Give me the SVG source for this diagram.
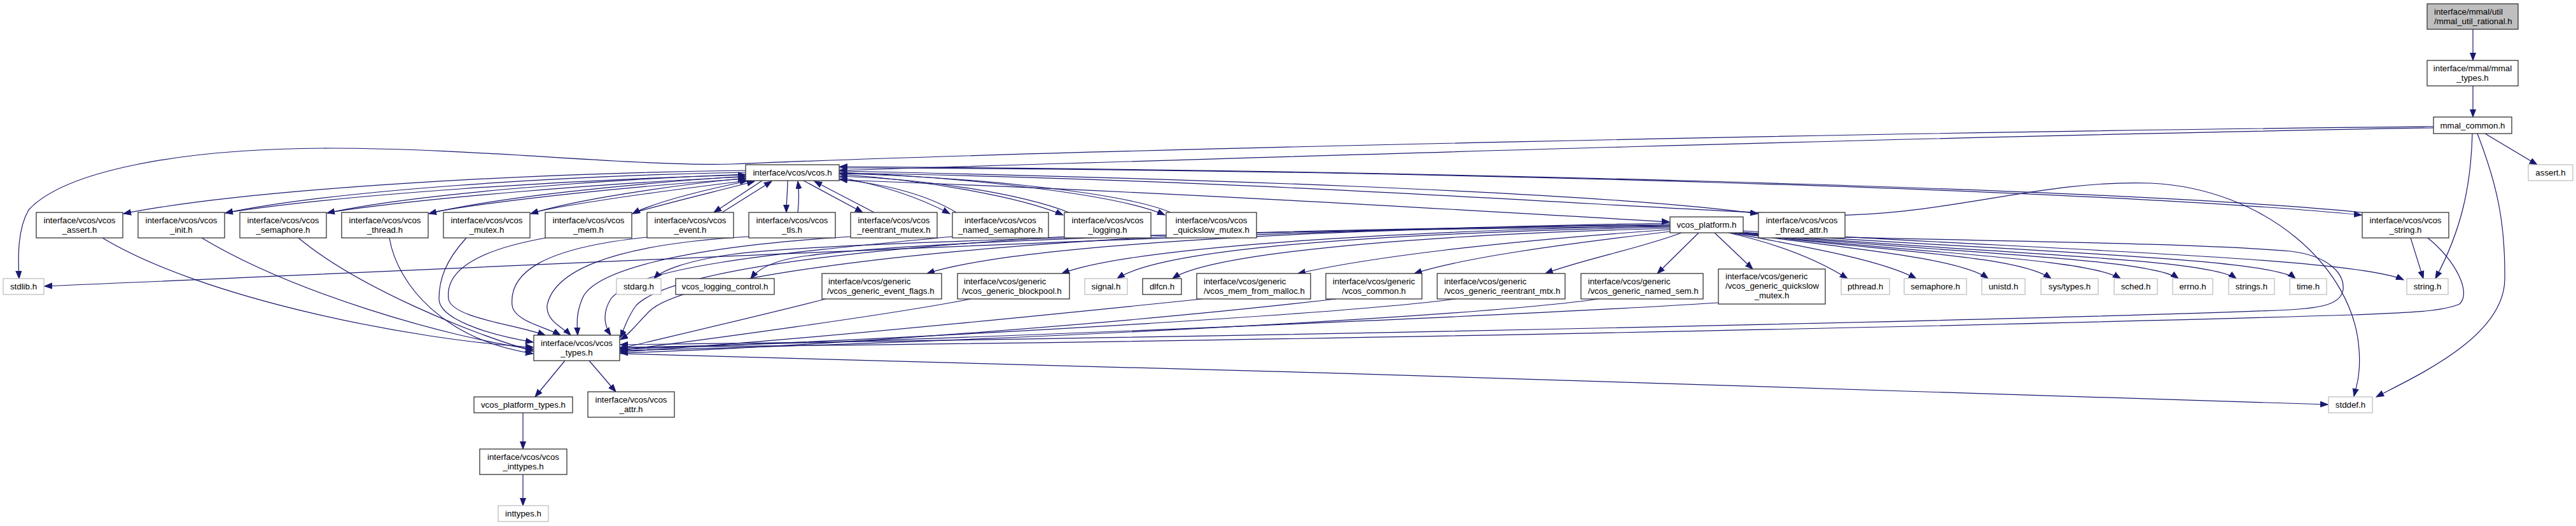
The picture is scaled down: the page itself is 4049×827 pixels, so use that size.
<svg xmlns="http://www.w3.org/2000/svg" width="4049" height="827" viewBox="0 0 4049 827">
<style>
.n rect{fill:#fff;stroke:#333;stroke-width:1.3}
.x rect{fill:#fff;stroke:#bfbfbf;stroke-width:1.3}
.r rect{fill:#bfbfbf;stroke:#333;stroke-width:1.3}
text{font-family:"Liberation Sans",Arial,Helvetica,sans-serif;font-size:13.3px;fill:#000}
.m{text-anchor:middle}
#edges path{fill:none;stroke:#191970;stroke-width:1.2;marker-end:url(#a)}
</style>
<defs>
<marker id="a" markerUnits="userSpaceOnUse" markerWidth="14" markerHeight="11" refX="12" refY="5" orient="auto">
<path d="M0,0.5 L12,5 L0,9.5 z" fill="#191970" stroke="#191970" stroke-width="1"/>
</marker>
</defs>
<rect width="4049" height="827" fill="#fff"/>
<g id="edges">
<path d="M3887,46 L3887,95"/>
<path d="M3887,135 L3887,184"/>
<path d="M3906,210 L3988,259"/>
<path d="M3886,210 C3884,290 3870,360 3828,438"/>
<path d="M3894,210 C3925,290 3938,350 3937,440 C3935,530 3800,590 3735,624"/>
<path d="M3825,199 C3000,207 1700,235 1150,258 C1000,262 750,233 520,233 C280,233 100,270 45,330 C28,360 28,400 30,438"/>
<path d="M3825,201 C3000,215 1900,250 1319,268"/>
<path d="M1172,268 C850,272 400,295 194,336"/>
<path d="M1172,271 C880,276 520,300 354,335"/>
<path d="M358,334 C540,306 880,283 1172,275"/>
<path d="M1172,274 C950,282 650,305 514,335"/>
<path d="M518,334 C660,312 950,288 1172,278"/>
<path d="M1172,277 C1000,288 780,310 674,336"/>
<path d="M678,334 C790,314 1000,292 1172,281"/>
<path d="M1172,280 C1050,292 900,315 834,336"/>
<path d="M838,334 C910,318 1060,298 1175,284"/>
<path d="M1178,284 C1100,300 1030,318 994,336"/>
<path d="M998,334 C1060,316 1130,300 1186,285"/>
<path d="M1198,284 L1122,334"/>
<path d="M1135,334 L1213,285"/>
<path d="M1238,284 C1238,300 1236,318 1236,334"/>
<path d="M1254,334 C1256,316 1256,300 1254,285"/>
<path d="M1263,284 L1356,334"/>
<path d="M1374,334 L1280,285"/>
<path d="M1319,279 C1400,293 1455,316 1493,336"/>
<path d="M1503,334 C1465,311 1405,291 1320,282"/>
<path d="M1319,274 C1450,283 1600,308 1671,338"/>
<path d="M1680,334 C1600,303 1450,281 1320,277"/>
<path d="M1319,271 C1500,278 1750,303 1831,338"/>
<path d="M1840,334 C1760,300 1500,277 1320,273"/>
<path d="M1319,269 C1800,279 2500,300 2763,336"/>
<path d="M1319,272 C2000,283 2600,330 2850,338 C3050,344 3200,282 3380,288 C3560,296 3700,420 3708,550 C3711,590 3703,610 3700,623"/>
<path d="M1319,264 C2200,266 3300,298 3712,338"/>
<path d="M3713,334 C3300,294 2200,268 1320,262"/>
<path d="M1319,283 C1800,300 2300,330 2624,349"/>
<path d="M161,374 C320,470 650,535 838,546"/>
<path d="M317,374 C460,460 700,530 838,549"/>
<path d="M469,374 C560,450 740,525 838,552"/>
<path d="M612,374 C625,450 700,535 838,556"/>
<path d="M733,374 C700,410 690,440 690,470 C690,500 760,525 838,538"/>
<path d="M858,374 C740,395 700,430 705,470 C710,500 810,510 857,527"/>
<path d="M1017,373 C850,390 800,430 805,480 C808,505 860,515 881,527"/>
<path d="M1177,372 C950,385 870,430 860,480 C858,505 885,515 897,527"/>
<path d="M1337,372 C1050,390 930,430 915,470 C905,495 907,510 908,527"/>
<path d="M1497,372 C1200,400 1000,420 960,470 C945,495 952,515 960,527"/>
<path d="M1673,372 C1300,395 1050,430 1000,480 C985,500 980,520 975,531"/>
<path d="M1833,372 C1400,395 1070,440 1020,490 C1000,510 990,525 975,534"/>
<path d="M888,567 L841,624"/>
<path d="M926,567 L968,616"/>
<path d="M822,649 L822,706"/>
<path d="M822,746 L822,795"/>
<path d="M974,556 C1800,575 3000,615 3659,636"/>
<path d="M2695,366 L2755,423"/>
<path d="M2670,366 L2605,430"/>
<path d="M2643,366 C2580,390 2480,410 2429,430"/>
<path d="M2625,364 C2450,385 2300,405 2223,430"/>
<path d="M2625,361 C2350,380 2150,405 2040,430"/>
<path d="M2625,359 C2200,370 1900,400 1843,438"/>
<path d="M2625,357 C2100,368 1820,395 1756,438"/>
<path d="M2625,355 C2100,365 1760,395 1669,430"/>
<path d="M2625,353 C2000,360 1580,390 1457,430"/>
<path d="M2625,354 C2000,360 1400,380 1250,405 C1210,412 1190,425 1180,438"/>
<path d="M2625,356 C2000,362 1300,380 1150,400 C1080,410 1040,425 1028,438"/>
<path d="M2625,351 C2000,360 900,415 70,450"/>
<path d="M2735,366 C2900,378 3400,378 3600,395 C3660,402 3685,430 3683,455 C3680,478 3650,484 3600,487 C3300,500 2000,530 975,542"/>
<path d="M3816,374 C3860,410 3885,460 3866,478 C3840,490 3780,492 3700,495 C3200,510 2000,538 975,546"/>
<path d="M3789,374 L3809,438"/>
<path d="M2717,366 C2800,385 2860,410 2904,438"/>
<path d="M2720,366 C2850,390 2960,410 3012,438"/>
<path d="M2725,366 C2900,390 3080,405 3125,438"/>
<path d="M2728,366 C2950,395 3170,400 3224,438"/>
<path d="M2732,366 C3000,398 3280,405 3333,438"/>
<path d="M2735,366 C3050,398 3380,405 3424,438"/>
<path d="M2738,366 C3100,398 3470,405 3515,438"/>
<path d="M2740,365 C3150,395 3570,405 3608,438"/>
<path d="M2740,363 C3200,392 3700,405 3778,440"/>
<path d="M1298,470 C1200,495 1050,530 975,548"/>
<path d="M1526,470 C1400,495 1100,535 975,551"/>
<path d="M1890,470 C1600,500 1200,540 975,553"/>
<path d="M2100,470 C1800,505 1300,545 975,555"/>
<path d="M2288,470 C2100,495 1400,535 975,549"/>
<path d="M2513,470 C2300,500 1500,540 975,551"/>
<path d="M2701,476 C2400,495 1500,535 975,547"/>
</g>
<g id="n_root" class="r"><rect x="3815" y="6" width="143" height="40"/><text x="3826" y="22.5">interface/mmal/util</text><text x="3826" y="37.5">/mmal_util_rational.h</text></g>
<g id="n_mmal_types" class="n"><rect x="3815" y="95" width="143" height="40"/><text class="m" x="3886.5" y="111.5">interface/mmal/mmal</text><text class="m" x="3886.5" y="126.5">_types.h</text></g>
<g id="n_mmal_common" class="n"><rect x="3825" y="184" width="123" height="26"/><text class="m" x="3886.5" y="201.5">mmal_common.h</text></g>
<g id="n_assert_h" class="x"><rect x="3974" y="259" width="70" height="25"/><text class="m" x="4009" y="276">assert.h</text></g>
<g id="n_vcos" class="n"><rect x="1172" y="259" width="147" height="25"/><text class="m" x="1245.5" y="276">interface/vcos/vcos.h</text></g>
<g id="n_vcos_assert" class="n"><rect x="57" y="334" width="136" height="40"/><text class="m" x="125" y="350.5">interface/vcos/vcos</text><text class="m" x="125" y="365.5">_assert.h</text></g>
<g id="n_vcos_init" class="n"><rect x="217" y="334" width="136" height="40"/><text class="m" x="285" y="350.5">interface/vcos/vcos</text><text class="m" x="285" y="365.5">_init.h</text></g>
<g id="n_vcos_semaphore" class="n"><rect x="377" y="334" width="136" height="40"/><text class="m" x="445" y="350.5">interface/vcos/vcos</text><text class="m" x="445" y="365.5">_semaphore.h</text></g>
<g id="n_vcos_thread" class="n"><rect x="537" y="334" width="136" height="40"/><text class="m" x="605" y="350.5">interface/vcos/vcos</text><text class="m" x="605" y="365.5">_thread.h</text></g>
<g id="n_vcos_mutex" class="n"><rect x="697" y="334" width="136" height="40"/><text class="m" x="765" y="350.5">interface/vcos/vcos</text><text class="m" x="765" y="365.5">_mutex.h</text></g>
<g id="n_vcos_mem" class="n"><rect x="857" y="334" width="136" height="40"/><text class="m" x="925" y="350.5">interface/vcos/vcos</text><text class="m" x="925" y="365.5">_mem.h</text></g>
<g id="n_vcos_event" class="n"><rect x="1017" y="334" width="136" height="40"/><text class="m" x="1085" y="350.5">interface/vcos/vcos</text><text class="m" x="1085" y="365.5">_event.h</text></g>
<g id="n_vcos_tls" class="n"><rect x="1177" y="334" width="136" height="40"/><text class="m" x="1245" y="350.5">interface/vcos/vcos</text><text class="m" x="1245" y="365.5">_tls.h</text></g>
<g id="n_vcos_reentrant_mutex" class="n"><rect x="1337" y="334" width="136" height="40"/><text class="m" x="1405" y="350.5">interface/vcos/vcos</text><text class="m" x="1405" y="365.5">_reentrant_mutex.h</text></g>
<g id="n_vcos_named_semaphore" class="n"><rect x="1497" y="334" width="151" height="40"/><text class="m" x="1572.5" y="350.5">interface/vcos/vcos</text><text class="m" x="1572.5" y="365.5">_named_semaphore.h</text></g>
<g id="n_vcos_logging" class="n"><rect x="1673" y="334" width="136" height="40"/><text class="m" x="1741" y="350.5">interface/vcos/vcos</text><text class="m" x="1741" y="365.5">_logging.h</text></g>
<g id="n_vcos_quickslow_mutex" class="n"><rect x="1833" y="334" width="142" height="40"/><text class="m" x="1904" y="350.5">interface/vcos/vcos</text><text class="m" x="1904" y="365.5">_quickslow_mutex.h</text></g>
<g id="n_vcos_platform" class="n"><rect x="2625" y="341" width="115" height="25"/><text class="m" x="2682.5" y="358">vcos_platform.h</text></g>
<g id="n_vcos_thread_attr" class="n"><rect x="2764" y="334" width="136" height="40"/><text class="m" x="2832" y="350.5">interface/vcos/vcos</text><text class="m" x="2832" y="365.5">_thread_attr.h</text></g>
<g id="n_vcos_string" class="n"><rect x="3713" y="334" width="136" height="40"/><text class="m" x="3781" y="350.5">interface/vcos/vcos</text><text class="m" x="3781" y="365.5">_string.h</text></g>
<g id="n_stdlib" class="x"><rect x="5" y="438" width="64" height="25"/><text class="m" x="37" y="455">stdlib.h</text></g>
<g id="n_stdarg" class="x"><rect x="969" y="438" width="70" height="25"/><text class="m" x="1004" y="455">stdarg.h</text></g>
<g id="n_logging_control" class="n"><rect x="1062" y="438" width="155" height="25"/><text class="m" x="1139.5" y="455">vcos_logging_control.h</text></g>
<g id="n_event_flags" class="n"><rect x="1292" y="430" width="188" height="40"/><text x="1302" y="446.5">interface/vcos/generic</text><text x="1300" y="461.5">/vcos_generic_event_flags.h</text></g>
<g id="n_blockpool" class="n"><rect x="1505" y="430" width="176" height="40"/><text x="1515" y="446.5">interface/vcos/generic</text><text x="1512" y="461.5">/vcos_generic_blockpool.h</text></g>
<g id="n_signal" class="x"><rect x="1705" y="438" width="67" height="25"/><text class="m" x="1738.5" y="455">signal.h</text></g>
<g id="n_dlfcn" class="n"><rect x="1796" y="438" width="61" height="25"/><text class="m" x="1826.5" y="455">dlfcn.h</text></g>
<g id="n_mem_from_malloc" class="n"><rect x="1881" y="430" width="179" height="40"/><text x="1892" y="446.5">interface/vcos/generic</text><text x="1892" y="461.5">/vcos_mem_from_malloc.h</text></g>
<g id="n_vcos_common" class="n"><rect x="2084" y="430" width="151" height="40"/><text class="m" x="2159.5" y="446.5">interface/vcos/generic</text><text class="m" x="2159.5" y="461.5">/vcos_common.h</text></g>
<g id="n_reentrant_mtx" class="n"><rect x="2259" y="430" width="201" height="40"/><text x="2270" y="446.5">interface/vcos/generic</text><text x="2270" y="461.5">/vcos_generic_reentrant_mtx.h</text></g>
<g id="n_named_sem" class="n"><rect x="2485" y="430" width="192" height="40"/><text x="2496" y="446.5">interface/vcos/generic</text><text x="2496" y="461.5">/vcos_generic_named_sem.h</text></g>
<g id="n_generic_quickslow" class="n"><rect x="2701" y="423" width="168" height="55"/><text x="2712" y="438.5">interface/vcos/generic</text><text x="2712" y="453.5">/vcos_generic_quickslow</text><text class="m" x="2785" y="468.5">_mutex.h</text></g>
<g id="n_pthread" class="x"><rect x="2894" y="438" width="76" height="25"/><text class="m" x="2932" y="455">pthread.h</text></g>
<g id="n_semaphore_h" class="x"><rect x="2993" y="438" width="98" height="25"/><text class="m" x="3042" y="455">semaphore.h</text></g>
<g id="n_unistd" class="x"><rect x="3115" y="438" width="68" height="25"/><text class="m" x="3149" y="455">unistd.h</text></g>
<g id="n_sys_types" class="x"><rect x="3208" y="438" width="90" height="25"/><text class="m" x="3253" y="455">sys/types.h</text></g>
<g id="n_sched" class="x"><rect x="3323" y="438" width="68" height="25"/><text class="m" x="3357" y="455">sched.h</text></g>
<g id="n_errno" class="x"><rect x="3415" y="438" width="63" height="25"/><text class="m" x="3446.5" y="455">errno.h</text></g>
<g id="n_strings" class="x"><rect x="3503" y="438" width="72" height="25"/><text class="m" x="3539" y="455">strings.h</text></g>
<g id="n_time" class="x"><rect x="3599" y="438" width="58" height="25"/><text class="m" x="3628" y="455">time.h</text></g>
<g id="n_string_h" class="x"><rect x="3783" y="438" width="65" height="25"/><text class="m" x="3815.5" y="455">string.h</text></g>
<g id="n_vcos_types" class="n"><rect x="839" y="527" width="135" height="40"/><text class="m" x="906.5" y="543.5">interface/vcos/vcos</text><text class="m" x="906.5" y="558.5">_types.h</text></g>
<g id="n_platform_types" class="n"><rect x="745" y="624" width="155" height="25"/><text class="m" x="822.5" y="641">vcos_platform_types.h</text></g>
<g id="n_vcos_attr" class="n"><rect x="924" y="616" width="136" height="40"/><text class="m" x="992" y="632.5">interface/vcos/vcos</text><text class="m" x="992" y="647.5">_attr.h</text></g>
<g id="n_vcos_inttypes" class="n"><rect x="754" y="706" width="137" height="40"/><text class="m" x="822.5" y="722.5">interface/vcos/vcos</text><text class="m" x="822.5" y="737.5">_inttypes.h</text></g>
<g id="n_inttypes" class="x"><rect x="783" y="795" width="79" height="25"/><text class="m" x="822.5" y="812">inttypes.h</text></g>
<g id="n_stddef" class="x"><rect x="3660" y="624" width="69" height="25"/><text class="m" x="3694.5" y="641">stddef.h</text></g>
</svg>
